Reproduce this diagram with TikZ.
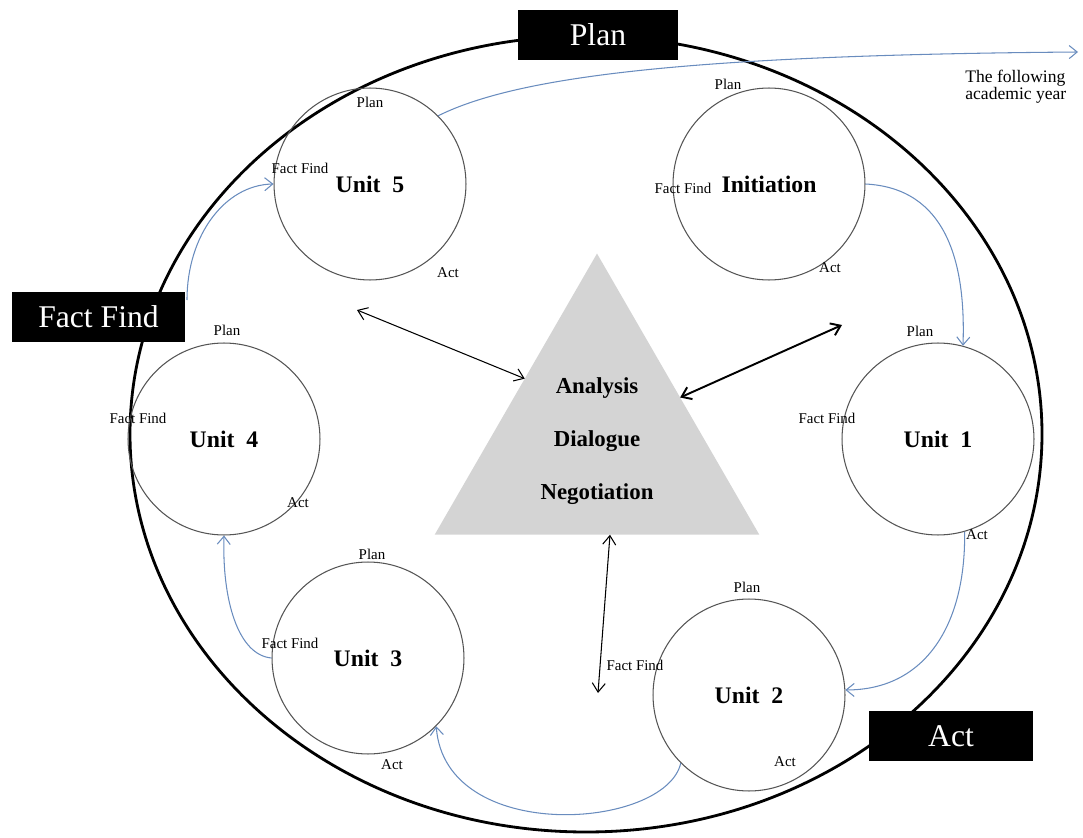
\documentclass[tikz,border=0pt]{standalone}
\usepackage{fontspec}
\setmainfont{Liberation Serif}
\usepackage{xcolor}
\definecolor{cblue}{RGB}{105,140,190}
\definecolor{cgray}{RGB}{85,85,85}
\definecolor{tgray}{RGB}{212,212,212}
\usepackage{tikz}
\usetikzlibrary{arrows.meta,shapes.geometric,calc}
\tikzset{
  unit/.style={circle,draw=cgray,line width=0.6pt,minimum size=3.84cm,inner sep=0pt,font=\fontsize{13.5}{16}\selectfont\bfseries},
  lbl/.style={inner sep=0pt,font=\fontsize{8.5}{10}\selectfont},
  tag/.style={fill=black,text=white,minimum height=1cm,inner sep=0pt,font=\fontsize{18}{20}\selectfont},
  flow/.style={cblue,line width=0.6pt,-{Straight Barb[length=1.6mm,width=2.6mm]}},
  link/.style={line width=0.6pt,{Straight Barb[length=1.8mm,width=2.6mm]}-{Straight Barb[length=1.8mm,width=2.6mm]}},
}

\begin{document}
\begin{tikzpicture}[x=0.02cm,y=-0.02cm]
  \useasboundingbox (0,0) rectangle (1083,838);
  \draw[line width=1.6pt] (586,434) ellipse (456 and 398);

  \node[unit] (ini) at (769,184) {Initiation};
  \node[unit] (u1) at (938,439) {Unit\ \ 1};
  \node[unit] (u2) at (749,695) {Unit\ \ 2};
  \node[unit] (u3) at (368,658) {Unit\ \ 3};
  \node[unit] (u4) at (224,439) {Unit\ \ 4};
  \node[unit] (u5) at (370,184) {Unit\ \ 5};

  \node[regular polygon,regular polygon sides=3,minimum size=7.5cm,inner sep=0pt,outer sep=0pt,fill=tgray,
        align=center,font=\fontsize{13}{30}\selectfont\bfseries] (tri) at (597,441) {Analysis\\Dialogue\\Negotiation};

  \node[lbl] (inip) at (728,84) {Plan};
  \node[lbl] (inif) at (683,188) {Fact Find};
  \node[lbl] (inia) at (830,268) {Act};
  \node[lbl] (u1p) at (920,331) {Plan};
  \node[lbl] (u1f) at (827,418) {Fact Find};
  \node[lbl] (u1a) at (977,535) {Act};
  \node[lbl] (u2p) at (747,587) {Plan};
  \node[lbl] (u2f) at (635,665) {Fact Find};
  \node[lbl] (u2a) at (785,762) {Act};
  \node[lbl] (u3p) at (372,554) {Plan};
  \node[lbl] (u3f) at (290,643) {Fact Find};
  \node[lbl] (u3a) at (392,765) {Act};
  \node[lbl] (u4p) at (227,330) {Plan};
  \node[lbl] (u4f) at (138,418) {Fact Find};
  \node[lbl] (u4a) at (298,503) {Act};
  \node[lbl] (u5p) at (370,102) {Plan};
  \node[lbl] (u5f) at (300,168) {Fact Find};
  \node[lbl] (u5a) at (448,273) {Act};

  \node[anchor=base west,align=left,inner sep=0pt,font=\fontsize{10}{10}\selectfont] (year) at (965,100) {The following\\academic year};
  \coordinate (nxt) at (1078,52);
  \coordinate (ffend) at (187,300);

  \draw[flow] (u5.45) .. controls (520,75) and (700,55) .. (nxt);
  \draw[flow] (ini.east) .. controls (945,188) and (966,260) .. (u1.75);
  \draw[flow] (u1.-74) .. controls (966,625) and (925,690) .. (u2.3);
  \draw[flow] (u2.225) .. controls (665,830) and (445,845) .. (u3.-45);
  \draw[flow] (u3.180) .. controls (238,655) and (222,600) .. (u4.-90);
  \draw[flow] (ffend) .. controls (187,235) and (225,185) .. (u5.180);

  \coordinate (a5) at (357,310);
  \coordinate (aini) at (842,325);
  \coordinate (a2) at (598,693);
  \draw[link] (a5) -- ($(tri.corner 1)!0.445!(tri.corner 2)$);
  \draw[link,line width=1.1pt] (aini) -- ($(tri.corner 1)!0.512!(tri.corner 3)$);
  \draw[link] ($(tri.corner 2)!0.54!(tri.corner 3)$) -- (a2);

  \node[tag,minimum width=3.2cm] (plan) at (598,35) {Plan};
  \node[tag,minimum width=3.46cm] (ff) at (98.5,317) {Fact Find};
  \node[tag,minimum width=3.28cm] (act) at (951,736) {Act};
\end{tikzpicture}
\end{document}
